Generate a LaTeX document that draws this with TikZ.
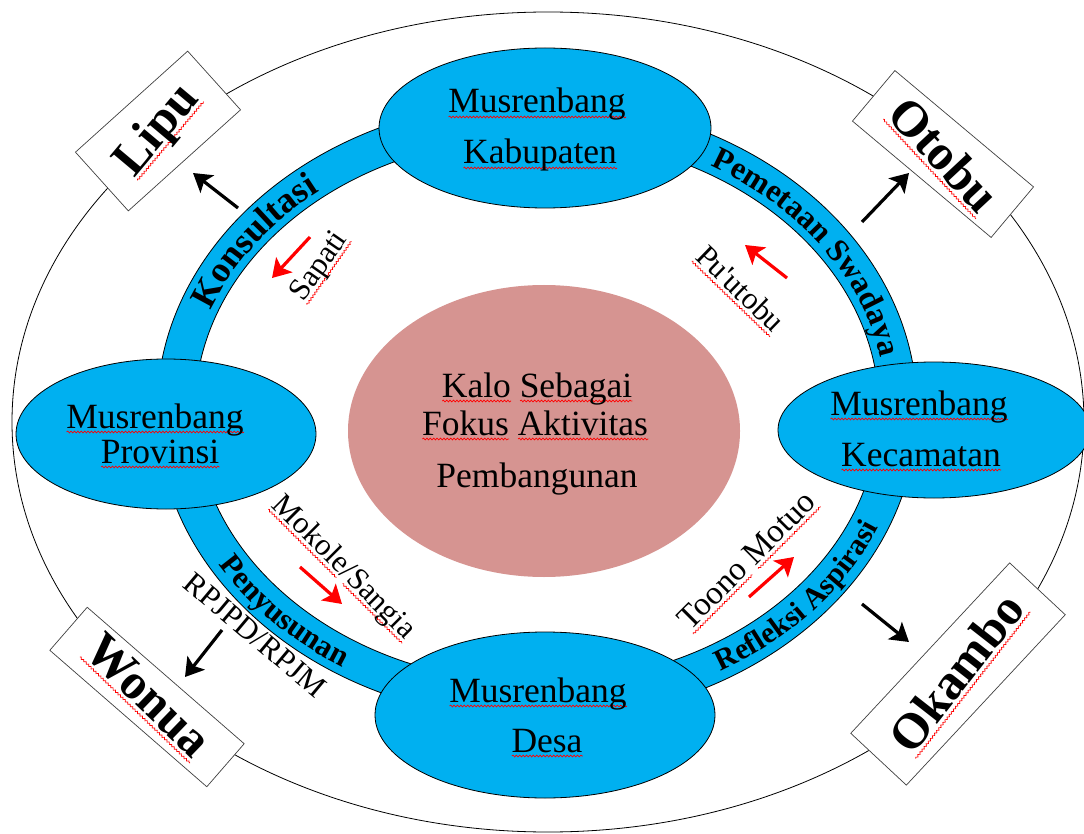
\documentclass[tikz,border=0pt]{standalone}
\usepackage{fontspec}
\setmainfont{Liberation Serif}
\newfontfamily\plainquote{Liberation Serif}
\usetikzlibrary{shapes.geometric,arrows.meta,decorations.text,decorations.pathmorphing}

\definecolor{stageblue}{RGB}{0,176,240}
\definecolor{kalopink}{RGB}{214,148,145}

% red wavy underline used under the local words
\newsavebox\spellbox
\newcommand\spell[1]{\sbox\spellbox{#1}\leavevmode\rlap{\tikz[baseline=0pt,x=1pt,y=1pt]
  \draw[red, line width=0.7pt, decorate, decoration={snake, amplitude=0.9pt, segment length=3.4pt}]
  (0pt,-4pt) -- (\the\wd\spellbox,-4pt);}\usebox\spellbox}

\newcommand\stagefont{\fontsize{35.5}{40}\selectfont}
\newcommand\notefont{\fontsize{31}{36}\selectfont}
\newcommand\bignotefont{\fontsize{33}{38}\selectfont}
\newcommand\placefont{\bfseries\fontsize{50}{56}\selectfont}
\newcommand\ringfontA{\bfseries\fontsize{36}{40}\selectfont}
\newcommand\ringfontB{\bfseries\fontsize{32}{36}\selectfont}
\newcommand\ringfontC{\bfseries\fontsize{31}{35}\selectfont}
\newcommand\ringfontD{\bfseries\fontsize{30}{34}\selectfont}

\begin{document}
\begin{tikzpicture}[x=1pt,y=-1pt,
  stage/.style={ellipse, draw=black, line width=0.8pt, fill=stageblue, inner sep=0pt},
  placebox/.style={rectangle, draw=black!75, line width=0.7pt, fill=white, inner sep=0pt},
  stagetext/.style={anchor=base, inner sep=0pt, font=\stagefont},
  note/.style={inner sep=0pt, font=\notefont},
  place/.style={inner sep=0pt, font=\placefont},
  pointer/.style={line width=3.2pt, -{Stealth[length=18pt,width=22pt,inset=4pt]}},
  flow/.style={pointer, red},
  ringtext/.style={decorate, decoration={text along path, text align={align=center}, text={#1}}}
]
\useasboundingbox (0,0) rectangle (1084,834);
\fill[white] (0,0) rectangle (1084,834);

% outer boundary
\node[ellipse, draw=black, line width=0.8pt, minimum width=1072pt, minimum height=820pt, inner sep=0pt] (outer) at (548,422) {};

% boxes of the four places
\node[placebox, minimum width=151pt, minimum height=79pt, rotate=42] (lipubox) at (158,131) {};
\node[placebox, minimum width=181pt, minimum height=66pt, rotate=-40] (otobubox) at (943,154) {};
\node[placebox, minimum width=208pt, minimum height=57pt, rotate=-41] (wonuabox) at (147,697) {};
\node[placebox, minimum width=233pt, minimum height=76pt, rotate=47] (okambobox) at (958,674) {};

% blue ring
\filldraw[fill=stageblue, draw=black, line width=0.8pt, even odd rule]
  (537,410) ellipse[x radius=380, y radius=310]
  (537,410) ellipse[x radius=342, y radius=273];

% centre
\node[ellipse, fill=kalopink, minimum width=392pt, minimum height=292pt, inner sep=0pt] (kalo) at (544,431) {};

% the four musrenbang stages
\node[stage, minimum width=332pt, minimum height=160pt] (kab) at (545,128) {};
\node[stage, minimum width=312pt, minimum height=136pt] (kec) at (934,430) {};
\node[stage, minimum width=300pt, minimum height=150pt] (prov) at (166,434) {};
\node[stage, minimum width=340pt, minimum height=166pt] (desa) at (545,715) {};

\node[stagetext] (kab1) at (537,113) {\spell{Musrenbang}};
\node[stagetext] (kab2) at (540,164) {\spell{Kabupaten}};
\node[stagetext] (kec1) at (919,415) {\spell{Musrenbang}};
\node[stagetext] (kec2) at (921,466) {\spell{Kecamatan}};
\node[stagetext] (prov1) at (155,428) {\spell{Musrenbang}};
\node[stagetext] (prov2) at (160,463) {\spell{Provinsi}};
\node[stagetext] (desa1) at (538,702) {\spell{Musrenbang}};
\node[stagetext] (desa2) at (547,752) {\spell{Desa}};

\node[stagetext] (kalo1) at (537,397) {\spell{Kalo} \spell{Sebagai}};
\node[stagetext] (kalo2) at (535,435) {\spell{Fokus} \spell{Aktivitas}};
\node[stagetext] (kalo3) at (537,487) {Pembangunan};

% labels along the ring
\path[ringtext={|\ringfontA|Konsultasi}]
  (537,410) ++(179:349 and 280) arc[start angle=179, end angle=250, x radius=349, y radius=280];
\path[ringtext={|\ringfontB|Pemetaan Swadaya}]
  (537,410) ++(290:350 and 281) arc[start angle=290, end angle=361, x radius=350, y radius=281];
\path[ringtext={|\ringfontC|Penyusunan}]
  (537,410) ++(166:371 and 302) arc[start angle=166, end angle=107, x radius=371, y radius=302];
\path[ringtext={|\ringfontD|Refleksi Aspirasi}]
  (537,410) ++(78:371 and 301) arc[start angle=78, end angle=2, x radius=371, y radius=301];

% place names
\node[place, rotate=50] (lipu) at (158,131) {\spell{Lipu}};
\node[place, rotate=-47] (otobu) at (943,156) {\spell{Otobu}};
\node[place, rotate=-44] (wonua) at (147,697) {\spell{Wonua}};
\node[place, rotate=52] (okambo) at (958,674) {\spell{Okambo}};

% inner notes
\node[note, rotate=55] (sapati) at (320,267) {\spell{Sapati}};
\node[note, rotate=-44] (puutobu) at (739,290) {\spell{Pu{\plainquote'}utobu}};
\node[note, rotate=-45] (mokole) at (343,568) {\spell{Mokole}/\spell{Sangia}};
\node[note, font=\bignotefont, rotate=45] (toono) at (748,562) {\spell{Toono} \spell{Motuo}};
\node[note, rotate=-40] (rpj) at (255,635) {RPJPD/RPJM};

% outward arrows
\coordinate (lipuA) at (238,208);   \coordinate (lipuB) at (193,173);
\coordinate (otobuA) at (862,222);  \coordinate (otobuB) at (909,173);
\coordinate (wonuaA) at (222,630);  \coordinate (wonuaB) at (185,677);
\coordinate (okamboA) at (862,604); \coordinate (okamboB) at (909,642);
\draw[pointer] (lipuA) -- (lipuB);
\draw[pointer] (otobuA) -- (otobuB);
\draw[pointer] (wonuaA) -- (wonuaB);
\draw[pointer] (okamboA) -- (okamboB);

% flow arrows
\coordinate (sapatiA) at (310,237);  \coordinate (sapatiB) at (272,278);
\coordinate (puutobuA) at (787,278); \coordinate (puutobuB) at (745,245);
\coordinate (mokoleA) at (300,567);  \coordinate (mokoleB) at (342,604);
\coordinate (toonoA) at (749,597);   \coordinate (toonoB) at (794,557);
\draw[flow] (sapatiA) -- (sapatiB);
\draw[flow] (puutobuA) -- (puutobuB);
\draw[flow] (mokoleA) -- (mokoleB);
\draw[flow] (toonoA) -- (toonoB);
\end{tikzpicture}
\end{document}
